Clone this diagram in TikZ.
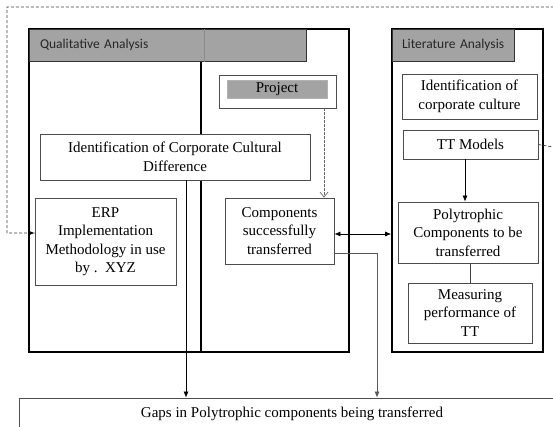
\documentclass[tikz,border=0pt]{standalone}
\usepackage{fontspec}
\setmainfont{Liberation Serif}
\newfontfamily\hdfont{Carlito}
\usetikzlibrary{arrows.meta}
\begin{document}
\begin{tikzpicture}[x=1pt,y=-1pt,
  box/.style={draw=black!70,line width=0.8pt,fill=white,inner sep=0pt,align=center,
    font=\fontsize{15}{18.5}\selectfont},
  panel/.style={draw=black,line width=1.6pt,fill=white,inner sep=0pt},
  head/.style={draw=black!80,line width=1pt,fill=black!36,inner ysep=0pt,align=left,
    text=black!85,font=\hdfont\fontsize{13.5}{16}\selectfont},
  arr/.style={-{Latex[length=6pt,width=5pt]},line width=0.7pt,draw=black},
  dloop/.style={draw=black!75,line width=0.7pt,dash pattern=on 3pt off 2pt},
]
\useasboundingbox (0,0) rectangle (553,426);
\clip (0,0) rectangle (553,426);

% panels
\node[panel,minimum width=320pt,minimum height=323pt] (qual) at (189,190.5) {};
\node[head,inner xsep=11pt,text width=255pt,minimum height=32pt] (qualhead) at (167.5,45) {\mbox{Qualitative Analysis}};
\node[panel,minimum width=151pt,minimum height=323pt] (lit) at (467.5,190.5) {};
\node[head,inner xsep=10pt,text width=102pt,minimum height=32pt] (lithead) at (453,45) {\mbox{Literature Analysis}};

\coordinate (divx) at (201,0);
\coordinate (hx) at (204,0);
\draw[line width=1.4pt] (qualhead.south -| divx) -- (qual.south -| divx);
\draw[black!45,line width=0.4pt] (qualhead.north -| hx) -- (qualhead.south -| hx);

% boxes
\node[box,minimum width=117pt,minimum height=33pt] (projbox) at (277.5,91.5) {};
\node[box,draw=black!30,fill=black!36,minimum width=100pt,minimum height=18pt] (project) at (277,89) {Project};
\node[box,minimum width=270pt,minimum height=46pt] (idcd) at (175,157) {Identification of Corporate Cultural\\Difference};
\node[box,minimum width=141pt,minimum height=87pt] (erp) at (105.5,241.5) {ERP\\Implementation\\Methodology in use\\by .\ \ XYZ};
\node[box,minimum width=109pt,minimum height=66pt] (comp) at (279.5,231) {Components\\successfully\\transferred};
\node[box,minimum width=135pt,minimum height=45pt] (idcc) at (469.5,96.5) {Identification of\\corporate culture};
\node[box,minimum width=135pt,minimum height=29pt] (tt) at (470.5,144.5) {TT Models};
\node[box,minimum width=140pt,minimum height=61pt] (poly) at (468,232.5) {Polytrophic\\Components to be\\transferred};
\node[box,minimum width=124pt,minimum height=60pt] (meas) at (470,313) {Measuring\\performance of\\TT};
\node[box,minimum width=546pt,minimum height=32pt] (gaps) at (292,414) {Gaps in Polytrophic components being transferred};

% connectors
\coordinate (pjx) at (324,0);
\draw[black!60,line width=0.7pt,dash pattern=on 2.5pt off 1.5pt,-{Straight Barb[length=5pt,width=8pt]}]
  (projbox.south -| pjx) -- (comp.north -| pjx);
\coordinate (lx) at (186,0);
\draw[arr] (idcd.south -| lx) -- (gaps.north -| lx);
\coordinate (c2) at (377,253);
\draw[arr,draw=black!65] (comp.east |- c2) -| (gaps.north -| c2);
\coordinate (dy) at (0,234);
\draw[{Latex[length=6pt,width=5pt]}-{Latex[length=6pt,width=5pt]},line width=0.7pt] (comp.east |- dy) -- (lit.west |- dy);
\coordinate (tx) at (465,0);
\draw[arr] (tt.south -| tx) -- (poly.north -| tx);
\coordinate (mx) at (470,0);
\draw[line width=0.7pt,black!75] (poly.south -| mx) -- (meas.north -| mx);

% dashed feedback loop
\coordinate (loopR) at (565,149);
\coordinate (loopTL) at (7,7);
\draw[dloop] (tt.east) -- (loopR) |- (loopTL) |- ([yshift=8.5pt]erp.west);
\draw[arr] ([yshift=8.5pt,xshift=-6pt]erp.west) -- ([yshift=8.5pt]erp.west);
\end{tikzpicture}
\end{document}
